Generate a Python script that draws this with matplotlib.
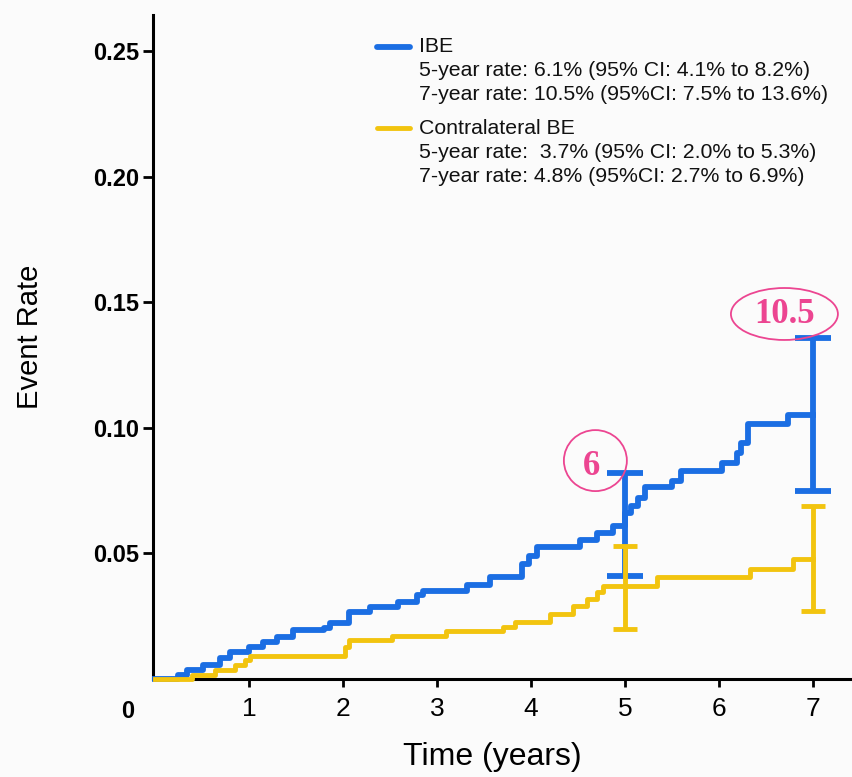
import matplotlib
matplotlib.use("Agg")
import matplotlib.pyplot as plt
from matplotlib.patches import Ellipse
from matplotlib.lines import Line2D

# Cumulative event rate (step functions), years -> rate
ibe_times = [0.0, 0.245, 0.34, 0.51, 0.69, 0.80, 1.00, 1.15, 1.30, 1.47, 1.80, 1.86,
             2.07, 2.29, 2.59, 2.79, 2.85, 3.32, 3.56, 3.91, 3.98, 4.06, 4.52, 4.70,
             4.87, 5.00, 5.07, 5.14, 5.21, 5.50, 5.60, 6.03, 6.19, 6.24, 6.31, 6.73]
ibe_rates = [0.0, 0.0016, 0.0036, 0.0056, 0.0084, 0.0108, 0.0127, 0.0149, 0.0167, 0.0195,
             0.0203, 0.0223, 0.0267, 0.0287, 0.0307, 0.0335, 0.0350, 0.0374, 0.0407,
             0.0460, 0.0490, 0.0526, 0.0554, 0.0580, 0.0610, 0.0660, 0.0690, 0.0720,
             0.0765, 0.0790, 0.0830, 0.0860, 0.0900, 0.0940, 0.1015, 0.1050]

cbe_times = [0.0, 0.39, 0.64, 0.85, 0.96, 1.01, 2.02, 2.07, 2.52, 3.10, 3.70, 3.83,
             4.20, 4.45, 4.60, 4.70, 4.77, 5.34, 6.33, 6.79]
cbe_rates = [0.0, 0.0016, 0.0036, 0.0056, 0.0076, 0.0092, 0.0127, 0.0155, 0.0170,
             0.0190, 0.0207, 0.0227, 0.0260, 0.0290, 0.0320, 0.0347, 0.0370, 0.0405,
             0.0440, 0.0480]
follow_up_end = 7.0

# 5- and 7-year rates with 95% confidence intervals
ci_years = [5, 7]
ibe_point = [0.061, 0.105]
ibe_low = [0.041, 0.075]
ibe_high = [0.082, 0.136]
cbe_point = [0.037, 0.048]
cbe_low = [0.020, 0.027]
cbe_high = [0.053, 0.069]

legend_ibe = ["IBE",
              "5-year rate: 6.1% (95% CI: 4.1% to 8.2%)",
              "7-year rate: 10.5% (95%CI: 7.5% to 13.6%)"]
legend_cbe = ["Contralateral BE",
              "5-year rate:  3.7% (95% CI: 2.0% to 5.3%)",
              "7-year rate: 4.8% (95%CI: 2.7% to 6.9%)"]

x_ticks = [1, 2, 3, 4, 5, 6, 7]
y_ticks = [0.05, 0.10, 0.15, 0.20, 0.25]
y_tick_labels = ["0.05", "0.10", "0.15", "0.20", "0.25"]

BLUE = "#1b6ee3"
YELLOW = "#f2c40f"
PINK = "#ec4591"
BG = "#fbfbfb"

W, H = 852, 777
fig = plt.figure(figsize=(W / 100, H / 100), dpi=100, facecolor=BG)
ax = fig.add_axes([153 / W, 1 - 679 / H, 1 - 153 / W, (679 - 15) / H])
ax.set_facecolor(BG)
ax.set_xlim(-0.02, 7.416)
ax.set_ylim(0, 0.2645)

# Step curves
ax.step(ibe_times + [follow_up_end], ibe_rates + [ibe_rates[-1]], where="post",
        color=BLUE, lw=4.2, zorder=3, clip_on=False)
ax.step(cbe_times + [follow_up_end], cbe_rates + [cbe_rates[-1]], where="post",
        color=YELLOW, lw=3.5, zorder=4, clip_on=False)

# Confidence-interval bars
ax.errorbar(ci_years, ibe_point,
            yerr=[[p - l for p, l in zip(ibe_point, ibe_low)],
                  [h - p for p, h in zip(ibe_point, ibe_high)]],
            fmt="none", ecolor=BLUE, elinewidth=4.2, capsize=13, capthick=4.2, zorder=3)
ax.errorbar(ci_years, cbe_point,
            yerr=[[p - l for p, l in zip(cbe_point, cbe_low)],
                  [h - p for p, h in zip(cbe_point, cbe_high)]],
            fmt="none", ecolor=YELLOW, elinewidth=3.5, capsize=8.5, capthick=3.5, zorder=4)

# Axes styling
for side in ("top", "right"):
    ax.spines[side].set_visible(False)
for side in ("left", "bottom"):
    ax.spines[side].set_linewidth(2.2)
    ax.spines[side].set_color("black")

ax.set_xticks(x_ticks)
ax.set_xticklabels([str(t) for t in x_ticks], fontsize=19, family="Liberation Sans")
ax.set_yticks(y_ticks)
ax.set_yticklabels(y_tick_labels, fontsize=17, fontweight="bold",
                   family="Liberation Sans")
ax.tick_params(axis="x", length=6, width=2, pad=7, direction="out")
ax.tick_params(axis="y", length=7, width=2, pad=3, direction="out")

fig.text(128 / W, 1 - 712 / H, "0", ha="center", va="center", fontsize=17,
         fontweight="bold", family="Liberation Sans")
fig.text(492 / W, 1 - 757 / H, "Time (years)", ha="center", va="center", fontsize=23,
         family="Liberation Sans")
fig.text(30 / W, 1 - 337 / H, "Event Rate", ha="center", va="center", fontsize=21,
         rotation=90, family="Liberation Sans")

# Legend block
def legend_group(lines, color, lw, y0):
    fig.add_artist(Line2D([377 / W, 410 / W], [1 - y0 / H, 1 - y0 / H],
                          color=color, lw=lw, solid_capstyle="round"))
    for i, s in enumerate(lines):
        fig.text(419 / W, 1 - (y0 + 24 * i) / H, s, ha="left", va="center",
                 fontsize=15.3, family="Liberation Sans", color="#111111")

legend_group(legend_ibe, BLUE, 4.2, 47)
legend_group(legend_cbe, YELLOW, 3.5, 128)

# Highlighted rates
ax.add_patch(Ellipse((4.686, 0.0870), 0.670, 0.0243, fill=False, ec=PINK, lw=1.3,
                     zorder=5))
ax.text(4.64, 0.0848, "6", ha="center", va="center", fontsize=25, fontweight="bold",
        family="Liberation Serif", color=PINK, zorder=6)
ax.add_patch(Ellipse((6.697, 0.1454), 1.138, 0.0207, fill=False, ec=PINK, lw=1.3,
                     zorder=5))
ax.text(6.70, 0.1452, "10.5", ha="center", va="center", fontsize=25, fontweight="bold",
        family="Liberation Serif", color=PINK, zorder=6)

fig.savefig("out.png", dpi=100, facecolor=BG)
